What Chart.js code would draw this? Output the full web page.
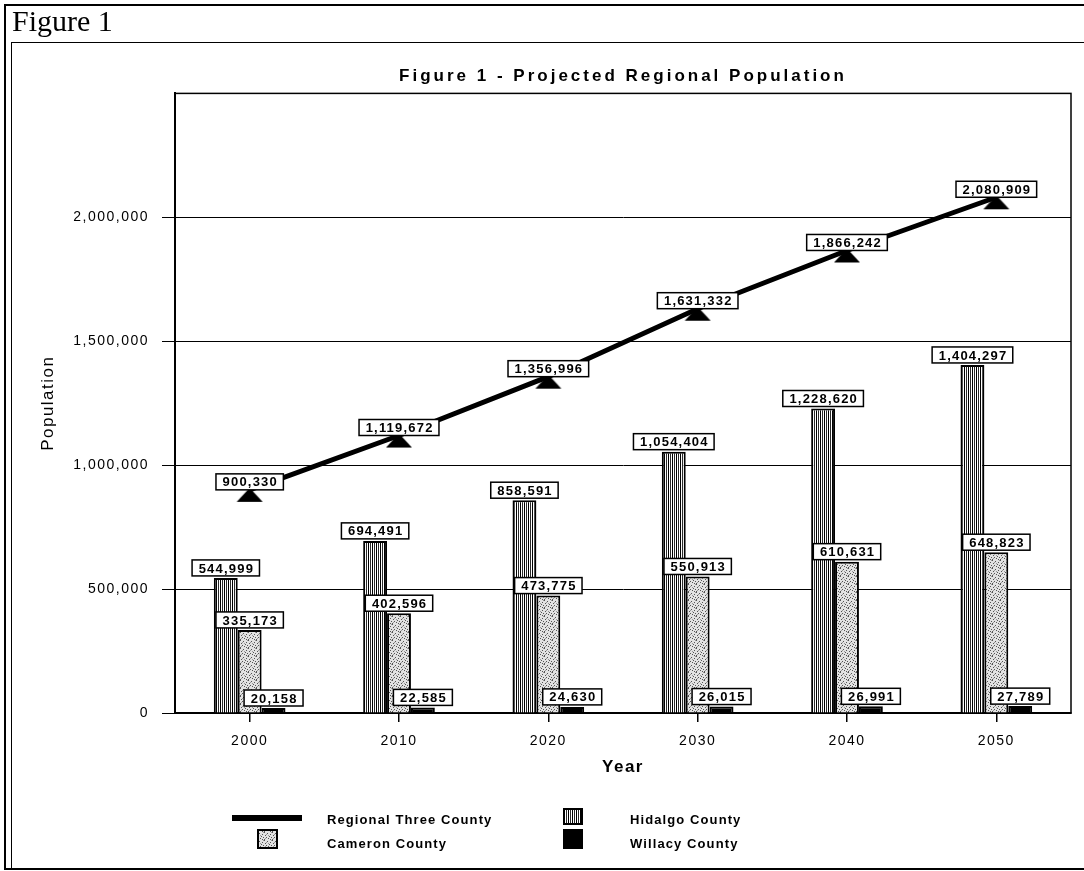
<!DOCTYPE html>
<html>
<head>
<meta charset="utf-8">
<title>Figure 1 - Projected Regional Population</title>
<script src="https://cdn.jsdelivr.net/npm/chart.js@4.4.1/dist/chart.umd.min.js"></script>
<style>
  html, body { margin: 0; padding: 0; background: #fff; }
  #page { position: relative; width: 1084px; height: 871px; overflow: hidden; background: #fff; }
  #page canvas { position: absolute; left: 0; top: 0; }
  .rule { position: absolute; background: #000; }
  #caption {
    position: absolute; left: 12px; top: 3px;
    font-family: "Liberation Serif", "Times New Roman", serif;
    font-size: 30px; line-height: 36px; color: #000;
  }
</style>
</head>
<body>
<div id="page">
  <canvas id="chart" width="1084" height="871"></canvas>
  <!-- page frame -->
  <div class="rule" style="left:4px;top:4px;width:1080px;height:2px"></div>
  <div class="rule" style="left:4px;top:4px;width:2px;height:866px"></div>
  <div class="rule" style="left:11px;top:42px;width:1px;height:828px"></div>
  <div class="rule" style="left:11px;top:42px;width:1073px;height:1px"></div>
  <div class="rule" style="left:4px;top:868px;width:1080px;height:2px"></div>
  <div id="caption">Figure 1</div>
</div>
<script>
// ---- data ----
const years = ['2000', '2010', '2020', '2030', '2040', '2050'];
const regionalThreeCounty = [900330, 1119672, 1356996, 1631332, 1866242, 2080909];
const hidalgoCounty = [544999, 694491, 858591, 1054404, 1228620, 1404297];
const cameronCounty = [335173, 402596, 473775, 550913, 610631, 648823];
const willacyCounty = [20158, 22585, 24630, 26015, 26991, 27789];
const yTickValues = [0, 500000, 1000000, 1500000, 2000000];
const yAxisMax = 2500000;

const FONT = '"Liberation Sans", Arial, Helvetica, sans-serif';
const BASE_SPACING = '1.5px';
const TITLE_SPACING = '3px';
const fmt = v => v.toLocaleString('en-US');

// ---- fills ----
const canvas = document.getElementById('chart');
const mainCtx = canvas.getContext('2d');

function stripeFill() {
  const c = document.createElement('canvas');
  c.width = 4; c.height = 4;
  const g = c.getContext('2d');
  g.fillStyle = '#fff'; g.fillRect(0, 0, 4, 4);
  g.fillStyle = '#000'; g.fillRect(0, 0, 1, 4);
  g.fillStyle = '#2a2a2a'; g.fillRect(2, 0, 1, 4);
  return mainCtx.createPattern(c, 'repeat');
}

function stippleFill() {
  const c = document.createElement('canvas');
  c.width = 8; c.height = 8;
  const g = c.getContext('2d');
  g.fillStyle = '#e2e2e2'; g.fillRect(0, 0, 8, 8);
  g.fillStyle = '#555';
  [[0,0],[3,1],[6,2],[1,3],[5,4],[2,5],[7,5],[4,6],[0,7],[6,7]].forEach(([x, y]) => g.fillRect(x, y, 1, 1));
  g.fillStyle = '#999';
  [[2,2],[7,0],[4,3],[1,6]].forEach(([x, y]) => g.fillRect(x, y, 1, 1));
  return mainCtx.createPattern(c, 'repeat');
}

function triangleMarker() {
  const c = document.createElement('canvas');
  c.width = 28; c.height = 28;
  const g = c.getContext('2d');
  g.fillStyle = '#000';
  g.beginPath();
  g.moveTo(14, 12); g.lineTo(27, 26); g.lineTo(1, 26); g.closePath();
  g.fill();
  return c;
}

// ---- plugins ----
// wide tracking for all canvas text; the chart title gets a little more
const textSpacing = {
  id: 'textSpacing',
  beforeLayout(chart) { chart.ctx.letterSpacing = BASE_SPACING; },
  afterLayout(chart) {
    const block = chart.titleBlock;
    if (block && !block._tracked) {
      const draw = block.draw.bind(block);
      block.draw = (...args) => {
        chart.ctx.letterSpacing = TITLE_SPACING;
        draw(...args);
        chart.ctx.letterSpacing = BASE_SPACING;
      };
      block._tracked = true;
    }
  },
  beforeDraw(chart) { chart.ctx.letterSpacing = BASE_SPACING; }
};

const plotFrame = {
  id: 'plotFrame',
  beforeDatasetsDraw(chart) {
    const { ctx, chartArea: a } = chart;
    ctx.save();
    ctx.strokeStyle = '#000';
    ctx.lineWidth = 1.5;
    ctx.strokeRect(a.left, a.top, a.right - a.left, a.bottom - a.top);
    ctx.restore();
  }
};

const valueBoxes = {
  id: 'valueBoxes',
  afterDatasetsDraw(chart) {
    const ctx = chart.ctx;
    const sets = chart.data.datasets;
    const order = sets.map((d, i) => i)
      .sort((a, b) => (sets[a].type === 'line') - (sets[b].type === 'line'));
    ctx.save();
    ctx.font = 'bold 13px ' + FONT;
    ctx.textAlign = 'center';
    ctx.textBaseline = 'middle';
    const ls = 1.2;
    order.forEach(i => {
      const ds = sets[i];
      const meta = chart.getDatasetMeta(i);
      meta.data.forEach((el, j) => {
        const text = fmt(ds.data[j]);
        ctx.letterSpacing = '0px';
        const w = ctx.measureText(text).width + text.length * ls + 12;
        ctx.letterSpacing = ls + 'px';
        const h = 16;
        const gap = ds.type === 'line' ? 0 : 2;
        const x = el.x, bottom = el.y - gap;
        ctx.fillStyle = '#fff';
        ctx.fillRect(x - w / 2, bottom - h, w, h);
        ctx.strokeStyle = '#000';
        ctx.lineWidth = 1.5;
        ctx.strokeRect(x - w / 2, bottom - h, w, h);
        ctx.fillStyle = '#000';
        ctx.fillText(text, x + ls / 2, bottom - h / 2 + 1);
      });
    });
    ctx.restore();
  }
};

// legend laid out in two rows of two keys
const legendKey = {
  id: 'legendKey',
  afterDraw(chart) {
    const ctx = chart.ctx;
    const sets = chart.data.datasets;
    const slots = [
      { sx: 232, sy: 815, sw: 70, sh: 6, tx: 327, ty: 820 },
      { sx: 563, sy: 808, sw: 20, sh: 17, tx: 630, ty: 820 },
      { sx: 257, sy: 829, sw: 21, sh: 20, tx: 327, ty: 844 },
      { sx: 563, sy: 829, sw: 20, sh: 20, tx: 630, ty: 844 }
    ];
    ctx.save();
    ctx.font = 'bold 13px ' + FONT;
    ctx.letterSpacing = '1.1px';
    ctx.textAlign = 'left';
    ctx.textBaseline = 'middle';
    sets.forEach((ds, i) => {
      const s = slots[i];
      if (ds.type === 'line') {
        ctx.fillStyle = ds.borderColor;
        ctx.fillRect(s.sx, s.sy, s.sw, s.sh);
      } else {
        ctx.fillStyle = ds.backgroundColor;
        ctx.fillRect(s.sx, s.sy, s.sw, s.sh);
        ctx.strokeStyle = '#000';
        ctx.lineWidth = 2;
        ctx.strokeRect(s.sx + 1, s.sy + 1, s.sw - 2, s.sh - 2);
      }
      ctx.fillStyle = '#000';
      ctx.fillText(ds.label, s.tx, s.ty);
    });
    ctx.restore();
  }
};

// ---- chart ----
Chart.defaults.font.family = FONT;
Chart.defaults.color = '#000';

const barStyle = {
  type: 'bar',
  borderColor: '#000',
  borderWidth: 2,
  barPercentage: 1,
  categoryPercentage: 0.48,
  order: 1
};

new Chart(canvas, {
  data: {
    labels: years,
    datasets: [
      {
        type: 'line',
        label: 'Regional Three County',
        data: regionalThreeCounty,
        borderColor: '#000',
        backgroundColor: '#000',
        borderWidth: 5,
        tension: 0,
        pointStyle: triangleMarker(),
        pointRadius: 8,
        order: 0
      },
      Object.assign({}, barStyle, { label: 'Hidalgo County', data: hidalgoCounty, backgroundColor: stripeFill() }),
      Object.assign({}, barStyle, { label: 'Cameron County', data: cameronCounty, backgroundColor: stippleFill() }),
      Object.assign({}, barStyle, { label: 'Willacy County', data: willacyCounty, backgroundColor: '#000' })
    ]
  },
  options: {
    responsive: false,
    animation: false,
    devicePixelRatio: 1,
    layout: { padding: { left: 12, right: 10, top: 50, bottom: 90 } },
    plugins: {
      legend: { display: false },
      tooltip: { enabled: false },
      title: {
        display: true,
        fullSize: false,
        text: 'Figure 1 - Projected Regional Population',
        font: { size: 17, weight: 'bold' },
        color: '#000',
        padding: { top: 16, bottom: 7 }
      }
    },
    scales: {
      x: {
        afterFit(scale) { scale.height = 68; },
        grid: { display: true, drawOnChartArea: false, drawTicks: true, tickLength: 9, offset: false, color: '#000', lineWidth: 1.5 },
        border: { display: true, color: '#000', width: 2 },
        ticks: { font: { size: 14 }, padding: 11, maxRotation: 0 },
        title: { display: true, text: 'Year', font: { size: 17, weight: 'bold' }, padding: { top: 4, bottom: 3 } }
      },
      y: {
        min: 0,
        max: yAxisMax,
        afterFit(scale) { scale.width = 163; },
        afterBuildTicks(scale) {
          scale.ticks = yTickValues.concat([yAxisMax]).map(v => ({ value: v }));
        },
        grid: {
          color: '#000',
          lineWidth: 1,
          drawTicks: true,
          tickLength: 13,
          tickColor: c => (c.tick && yTickValues.includes(c.tick.value) ? '#000' : 'rgba(0,0,0,0)')
        },
        border: { display: true, color: '#000', width: 2 },
        ticks: {
          font: { size: 14 },
          padding: 13,
          callback: v => (yTickValues.includes(v) ? fmt(v) : '')
        },
        title: { display: true, text: 'Population', font: { size: 17 }, padding: { top: 26, bottom: 0 } }
      }
    }
  },
  plugins: [textSpacing, plotFrame, valueBoxes, legendKey]
});
</script>
</body>
</html>
